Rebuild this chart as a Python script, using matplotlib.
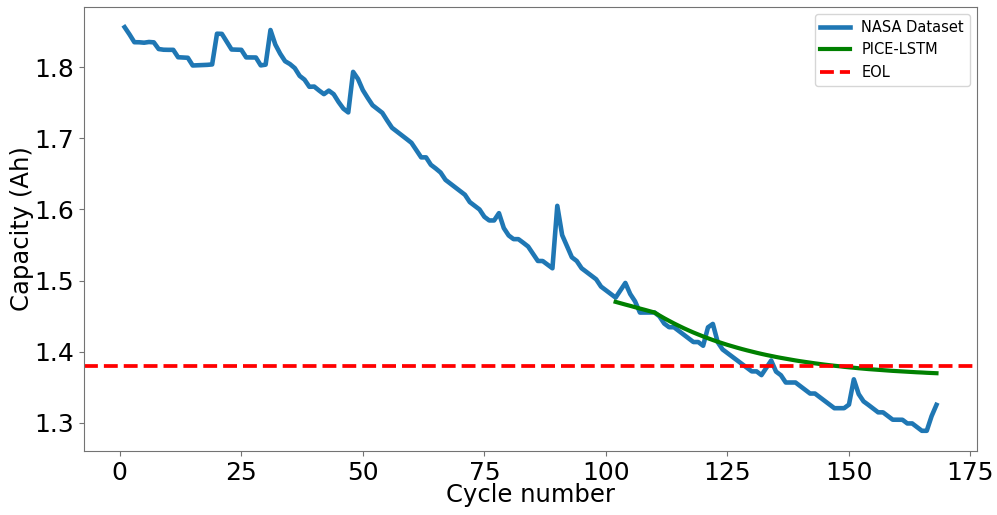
import numpy as np
import matplotlib
matplotlib.use("Agg")
import matplotlib.pyplot as plt

# NASA B0005 discharge capacity (Ah), cycles 1..168
capacity = [
    1.856487, 1.846327, 1.835349, 1.835263, 1.834646, 1.835662, 1.835146, 1.825757, 1.824774, 1.824613,
    1.824620, 1.814202, 1.813752, 1.813440, 1.802598, 1.802901, 1.803243, 1.803492, 1.804086, 1.847327,
    1.847075, 1.836110, 1.825092, 1.824914, 1.824634, 1.813997, 1.813961, 1.813826, 1.802734, 1.803743,
    1.852485, 1.831998, 1.819136, 1.808644, 1.804614, 1.798872, 1.788003, 1.782661, 1.772625, 1.772926,
    1.767385, 1.762263, 1.767276, 1.762203, 1.751286, 1.741869, 1.736575, 1.793617, 1.783624, 1.767922,
    1.756955, 1.746658, 1.741369, 1.735988, 1.725187, 1.714961, 1.709718, 1.704509, 1.699165, 1.693779,
    1.683555, 1.673323, 1.673339, 1.662839, 1.657657, 1.651945, 1.641658, 1.636446, 1.631297, 1.626013,
    1.620701, 1.610407, 1.605163, 1.599997, 1.589685, 1.584551, 1.584549, 1.594834, 1.573812, 1.563443,
    1.558285, 1.558249, 1.553193, 1.547868, 1.537719, 1.527555, 1.527467, 1.522349, 1.517253, 1.605106,
    1.563958, 1.548347, 1.532730, 1.527510, 1.517294, 1.512044, 1.506884, 1.501741, 1.491456, 1.486315,
    1.481155, 1.475993, 1.486246, 1.496624, 1.481078, 1.470657, 1.454927, 1.454970, 1.454876, 1.455077,
    1.449732, 1.439491, 1.434366, 1.434319, 1.429150, 1.423915, 1.418640, 1.413485, 1.413449, 1.408289,
    1.434163, 1.438981, 1.413302, 1.403072, 1.397971, 1.392807, 1.387661, 1.382522, 1.377322, 1.372181,
    1.372162, 1.366932, 1.377250, 1.387470, 1.371859, 1.366762, 1.356527, 1.356516, 1.356549, 1.351365,
    1.346211, 1.341013, 1.341021, 1.335823, 1.330712, 1.325549, 1.320378, 1.320356, 1.320420, 1.325460,
    1.361002, 1.340193, 1.330000, 1.325001, 1.319780, 1.314571, 1.314555, 1.309378, 1.304201, 1.304213,
    1.304105, 1.298930, 1.298955, 1.293763, 1.288584, 1.288574, 1.309290, 1.325079,
]
cycles = np.arange(1, len(capacity) + 1)

# PICE-LSTM prediction, cycles 102..168
pred_start = 102
prediction = [
    1.4700, 1.4681, 1.4662, 1.4644, 1.4625, 1.4606, 1.4588, 1.4569, 1.4550,
    1.4509, 1.4470, 1.4433, 1.4397, 1.4363, 1.4330, 1.4299, 1.4269, 1.4241, 1.4214,
    1.4188, 1.4163, 1.4139, 1.4117, 1.4095, 1.4075, 1.4055, 1.4036, 1.4018, 1.4001,
    1.3984, 1.3968, 1.3953, 1.3939, 1.3925, 1.3912, 1.3900, 1.3888, 1.3876, 1.3865,
    1.3855, 1.3845, 1.3835, 1.3826, 1.3817, 1.3809, 1.3801, 1.3794, 1.3786, 1.3779,
    1.3773, 1.3766, 1.3760, 1.3754, 1.3749, 1.3744, 1.3739, 1.3734, 1.3729, 1.3725,
    1.3721, 1.3717, 1.3713, 1.3709, 1.3706, 1.3702, 1.3699, 1.3696,
]
pred_cycles = np.arange(pred_start, pred_start + len(prediction))

eol = 1.38

fig = plt.figure(figsize=(9.97, 5.15), dpi=100)
ax = fig.add_axes([0.0843, 0.1243, 0.8957, 0.8621])

ax.plot(cycles, capacity, color="#1f77b4", lw=3.3, label="NASA Dataset")
ax.plot(pred_cycles, prediction, color="green", lw=3, label="PICE-LSTM")
ax.axhline(eol, color="red", lw=2.7, ls="--", label="EOL")

ax.set_xlabel("Cycle number", fontsize=17.5, labelpad=-1)
ax.set_ylabel("Capacity (Ah)", fontsize=17.5, labelpad=0)
ax.tick_params(labelsize=18)
for s in ax.spines.values():
    s.set_color("0.45")
ax.tick_params(color="0.45")

ax.legend(loc="upper right", fontsize=10.5)

fig.savefig("out.png", dpi=100)
